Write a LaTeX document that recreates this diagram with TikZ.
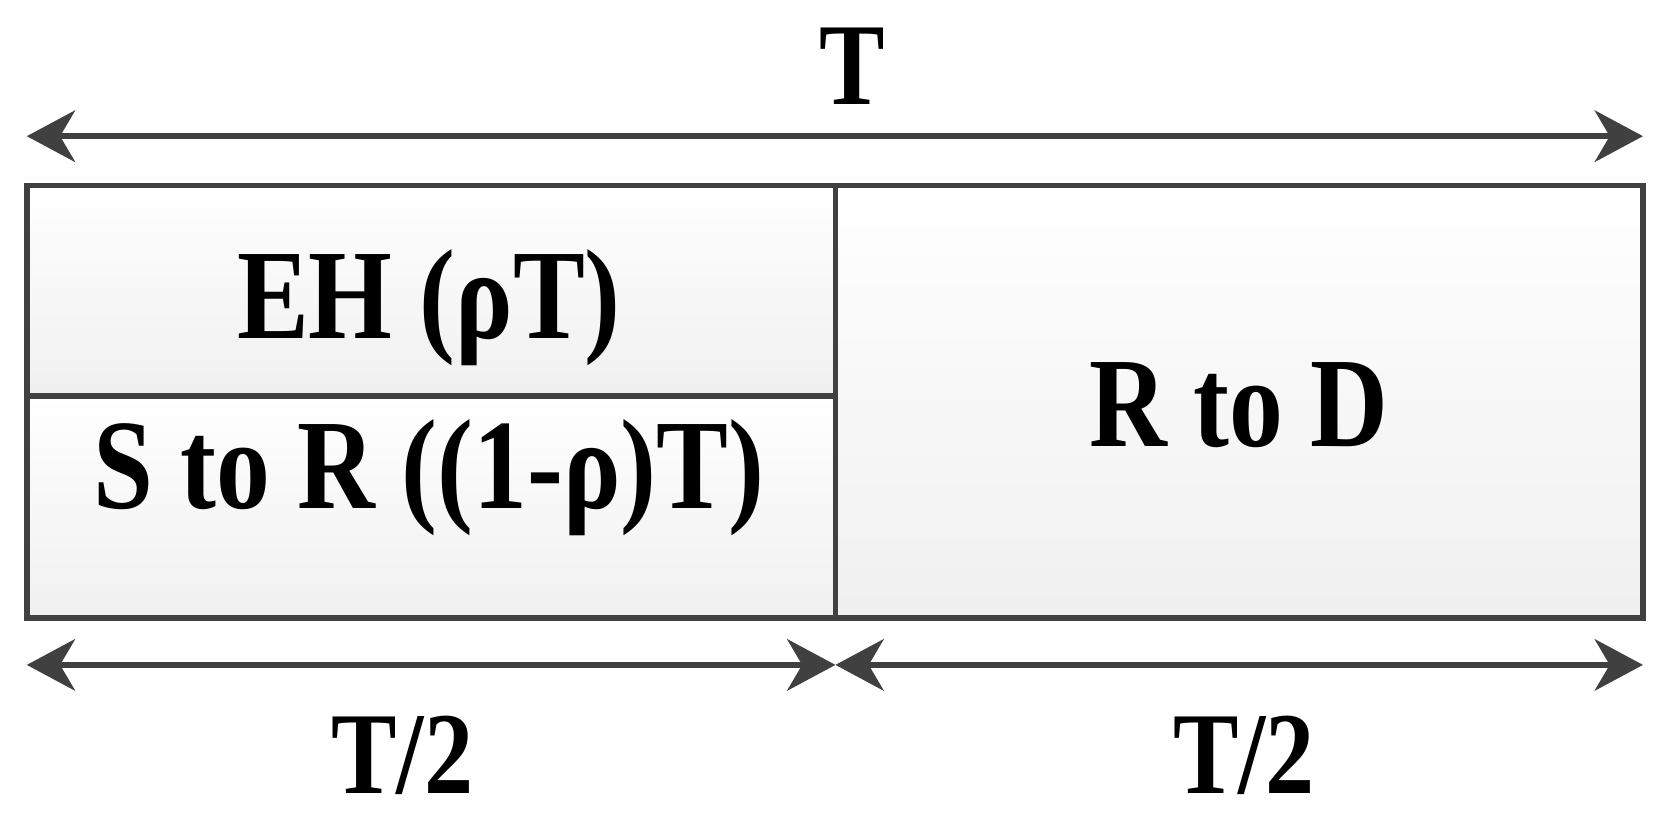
\documentclass[tikz,border=0pt]{standalone}
\usepackage{fontspec}
\setmainfont{Liberation Serif}[BoldFont={Liberation Serif Bold}, FakeStretch=0.84]
\usetikzlibrary{arrows.meta}
\definecolor{ln}{HTML}{404040}
\tikzset{
  x=0.01cm, y=-0.01cm,
  cell/.style={draw=ln, line width=1.5pt, top color=white, bottom color=gray!12},
  dim/.style={draw=ln, line width=1.5pt, {Stealth[length=0.45cm,width=0.48cm,inset=0.14cm]}-{Stealth[length=0.45cm,width=0.48cm,inset=0.14cm]}},
  lbl/.style={font=\bfseries\fontsize{34}{38}\selectfont, text=black, inner sep=0pt},
  dlbl/.style={font=\bfseries\fontsize{31}{36}\selectfont, text=black, inner sep=0pt}
}
\begin{document}
\begin{tikzpicture}
\useasboundingbox (0,0) rectangle (1560,764);
\draw[cell] (25,173) rectangle (779,369);
\draw[cell] (25,369) rectangle (779,576);
\draw[cell] (779,173) rectangle (1532,576);
\coordinate (tl) at (25,127); \coordinate (tr) at (1532,127);
\coordinate (bl) at (25,620); \coordinate (bm) at (779,620); \coordinate (br) at (1532,620);
\draw[dim] (tl) -- (tr);
\draw[dim] (bl) -- (bm);
\draw[dim] (bm) -- (br);
\node[dlbl] (t) at (795,62) {T};
\node[lbl] (eh) at (400,287) {EH (ρT)};
\node[lbl] (sr) at (400,445) {S to R ((1-ρ)T)};
\node[lbl] (rd) at (1155,378) {R to D};
\node[dlbl] (h1) at (375,704) {T/2};
\node[dlbl] (h2) at (1160,704) {T/2};
\end{tikzpicture}
\end{document}
